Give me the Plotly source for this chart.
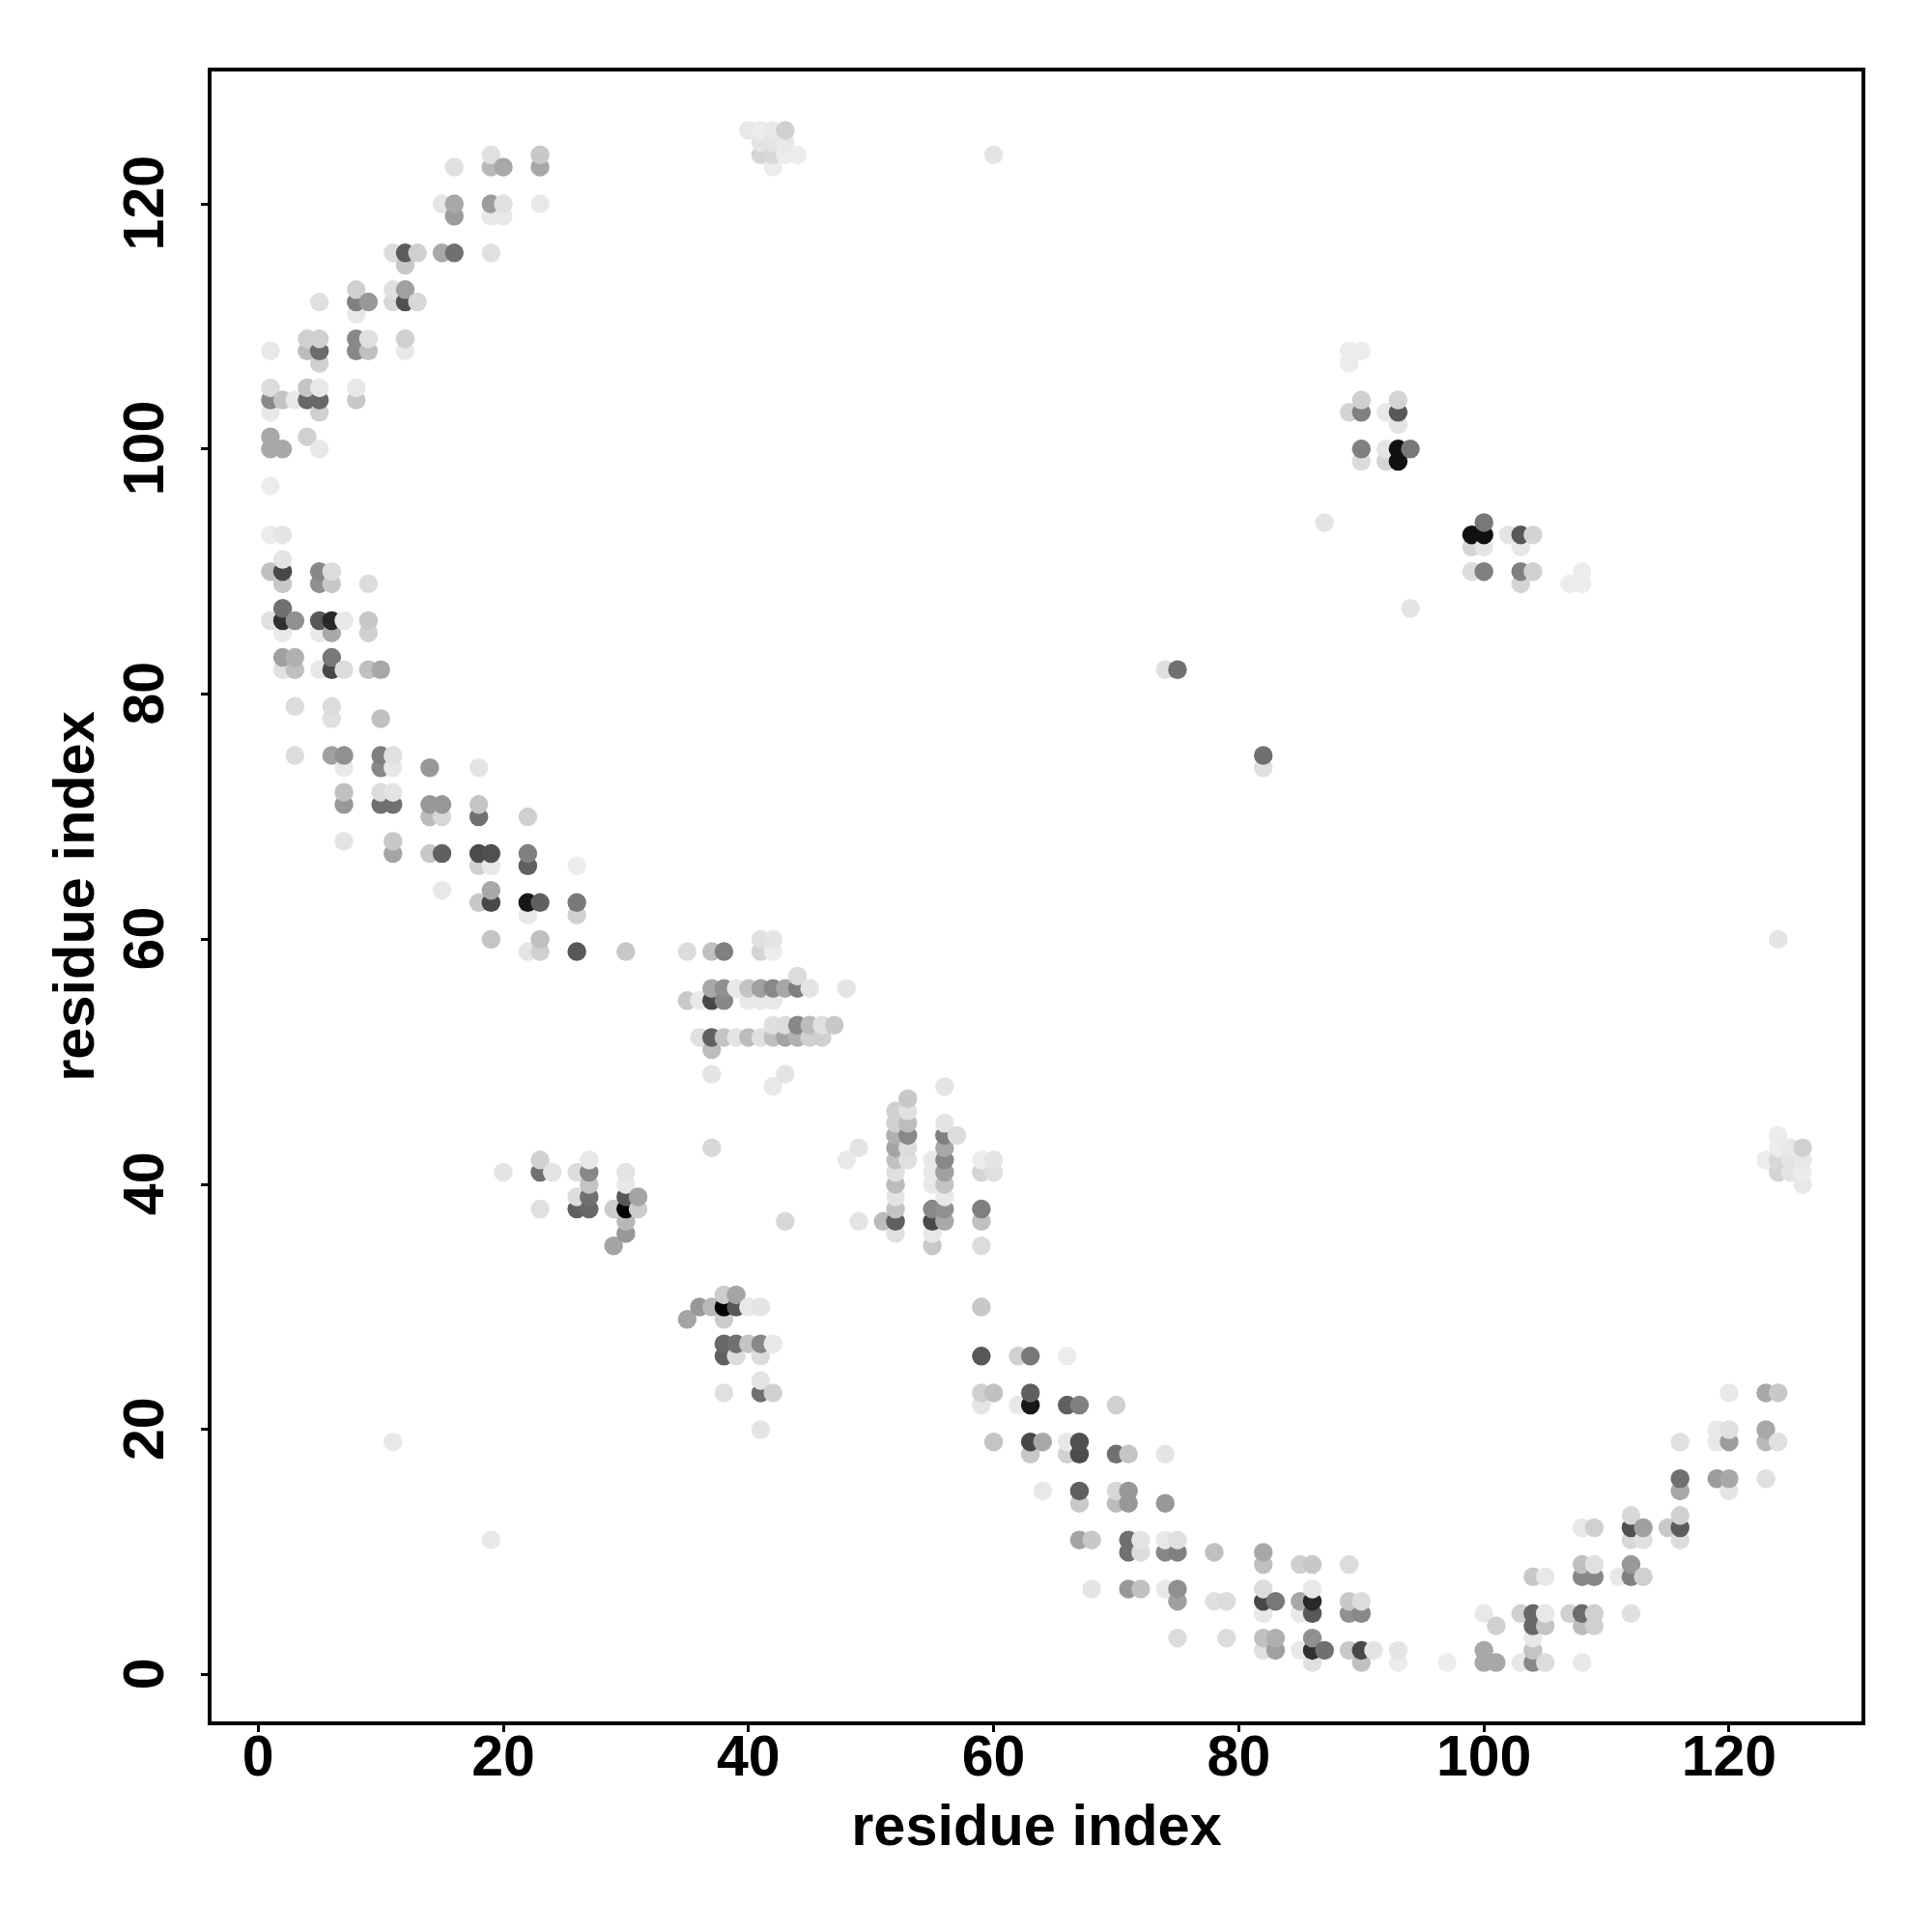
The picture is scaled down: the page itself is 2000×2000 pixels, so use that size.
import plotly.graph_objects as go

AXIS_LABEL = "residue index"
TICKS = [0, 20, 40, 60, 80, 100, 120]

# Contact rows: upper residue j, partner residues i (i < j),
# and the grey level of each contact. The contact map is symmetric about the diagonal.
contact_j = [126, 125, 124, 123, 120, 119, 116, 115, 113, 112, 111, 109, 108, 107, 105, 104, 103, 102,
             101, 100, 99, 97, 94, 93, 91, 90, 89, 87, 86, 85, 83, 82, 79, 78, 75, 74, 72, 71, 70, 68,
             67, 66, 64, 63, 62, 60, 59, 57, 56, 55, 53, 52, 51, 49, 48, 43, 42, 41, 40, 39, 38, 37,
             36, 35, 19]
contact_i = [
    [40, 41, 42, 43], [41, 42, 43], [19, 23, 41, 42, 43, 44, 60], [16, 19, 20, 23, 42],
    [15, 16, 19, 20, 23], [16, 19, 20], [11, 12, 13, 15, 16, 19], [12], [8, 11, 12],
    [5, 8, 9, 11, 12, 13], [8], [4, 5, 8, 9, 12], [1, 4, 5, 8, 9, 12, 89, 90], [5, 89],
    [1, 4, 5, 8], [1, 2, 3, 4, 5, 8, 90, 93], [1, 5, 89, 90, 92, 93], [93],
    [1, 4], [1, 2, 5, 90, 92, 93, 94], [90, 92, 93], [1], [87], [1, 2], [2], [1, 2, 5, 6],
    [2, 5, 6, 9], [2], [1, 2, 3, 5, 6, 7, 9], [2, 5, 6, 9], [2, 3, 6],
    [2, 3, 5, 6, 7, 9, 10, 74, 75], [3, 6], [6, 10], [3, 6, 7, 10, 11], [7, 10, 11, 14, 18],
    [7, 10, 11], [7, 10, 11, 14, 15, 18], [14, 15, 18, 22], [7, 11],
    [11, 14, 15, 18, 19, 22], [18, 19, 22, 26], [15, 19], [18, 19, 22, 23, 26], [22, 26],
    [19, 23, 41, 42], [22, 23, 26, 30, 35, 37, 38, 41, 42], [44],
    [37, 38, 39, 40, 41, 42, 43, 44, 45, 48], [35, 36, 37, 38, 40, 41, 42],
    [42, 43, 44, 45, 46, 47], [36, 37, 38, 39, 40, 41, 42, 43, 44, 45, 46], [37], [37, 43], [42],
    [37], [23, 27], [20, 23, 24, 26, 27, 30], [27, 30], [26, 27, 30, 31],
    [23, 26, 27, 29, 30, 31], [30], [30], [29], [11],
]
contact_grey = [
    [232, 236, 232, 208], [228, 228, 232], [224, 200, 212, 216, 236, 236, 228], [224, 184, 168, 168, 236],
    [229, 168, 156, 224, 232], [156, 232, 232], [220, 92, 208, 168, 112, 224], [200], [208, 224, 160],
    [224, 128, 152, 216, 80, 216], [232], [208, 208, 136, 224, 208], [232, 188, 108, 136, 192, 232, 236, 236], [208, 236],
    [220, 196, 232, 232], [136, 196, 232, 104, 104, 200, 208, 212], [232, 208, 212, 128, 232, 88], [228],
    [168, 208], [168, 168, 232, 128, 228, 16, 120], [220, 212, 16], [236], [228], [236, 228], [228], [192, 72, 136, 220],
    [200, 144, 200, 220], [112], [224, 48, 144, 88, 40, 232, 200], [232, 232, 168, 208], [160, 176, 120],
    [224, 192, 232, 72, 220, 192, 168, 224, 112], [220, 220], [224, 192], [220, 160, 144, 128, 224], [232, 136, 232, 152, 228],
    [192, 220, 228], [152, 112, 112, 152, 152, 196], [188, 216, 112, 208], [228, 200],
    [164, 200, 96, 76, 80, 128], [208, 232, 96, 236], [232, 168], [200, 72, 24, 96, 120], [232, 208],
    [196, 192, 224, 228], [228, 208, 88, 200, 220, 192, 128, 212, 236], [220],
    [168, 144, 232, 196, 160, 136, 168, 128, 228, 228], [200, 232, 72, 136, 232, 232, 232],
    [224, 220, 136, 188, 224, 200], [224, 96, 196, 228, 188, 224, 192, 164, 176, 208, 208], [188], [228, 228], [232],
    [216], [208, 232], [228, 112, 228, 220, 136, 228], [196, 232], [220, 112, 88, 164],
    [224, 96, 104, 204, 0, 204], [184], [152], [164], [232],
]

points = []
for j, row_i, row_g in zip(contact_j, contact_i, contact_grey):
    for i, g in zip(row_i, row_g):
        points.append((i, j, g))
        points.append((j, i, g))
points.sort(key=lambda p: (p[0], p[1]))

fig = go.Figure(go.Scatter(
    x=[p[0] for p in points],
    y=[p[1] for p in points],
    mode="markers",
    marker=dict(size=19.5, color=[f"rgb({p[2]},{p[2]},{p[2]})" for p in points], line=dict(width=0)),
    cliponaxis=False,
    hoverinfo="x+y",
))

tick_font = dict(family="Liberation Sans, Arial, sans-serif", size=59, color="black", weight="bold")
title_font = dict(family="Liberation Sans, Arial, sans-serif", size=59.5, color="black", weight="bold")
common = dict(
    tickmode="array", tickvals=TICKS, ticktext=[str(t) for t in TICKS],
    showgrid=False, zeroline=False, showline=True, mirror=True, linecolor="black", linewidth=4,
    ticks="outside", ticklen=7, tickwidth=3, tickcolor="black", tickfont=tick_font, automargin=False,
)
fig.update_xaxes(range=[-3.8, 130.8], title=dict(text=AXIS_LABEL, font=title_font, standoff=20),
                 tickangle=0, ticklabelstandoff=-26, **common)
fig.update_yaxes(range=[-3.8, 130.8], title=dict(text=AXIS_LABEL, font=title_font, standoff=1),
                 tickangle=-90, ticklabelstandoff=15, ticklabelshift=8, **common)
fig.update_layout(
    width=2000, height=2000, autosize=False, showlegend=False,
    paper_bgcolor="white", plot_bgcolor="white",
    margin=dict(l=211, r=81, t=66, b=226, pad=0),
)
fig.write_html("out.html")
